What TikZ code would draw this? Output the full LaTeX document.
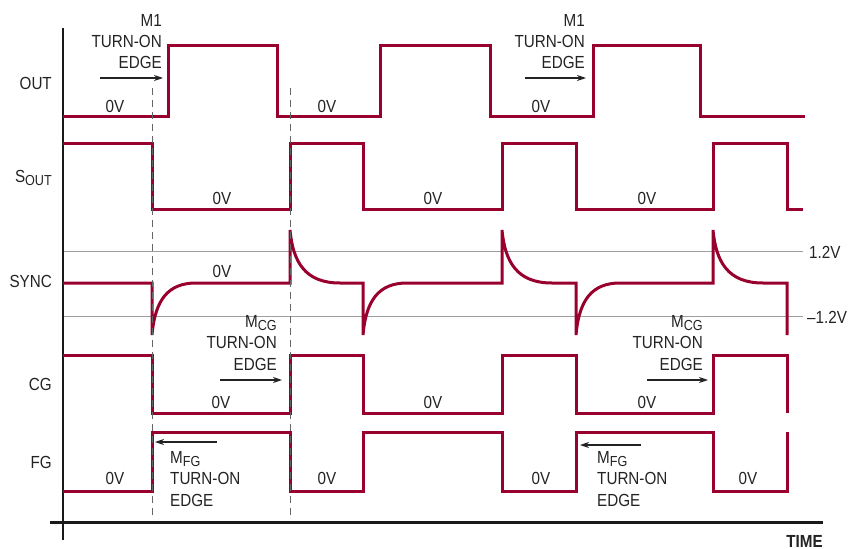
\documentclass[tikz,border=0pt]{standalone}
\usepackage{fontspec}
\setmainfont{Liberation Sans}[FakeStretch=0.87]
\usetikzlibrary{arrows.meta}
\definecolor{sig}{RGB}{152,0,46}
\definecolor{txt}{RGB}{35,35,35}
\newcommand\lowsub[1]{\raisebox{-3.5pt}{\fontsize{14.5}{16}\selectfont #1}}
\begin{document}
\begin{tikzpicture}[x=1pt,y=-1pt,
  sigline/.style={draw=sig,line width=3pt},
  refline/.style={draw=black!38,line width=1pt},
  dashline/.style={draw=black!60,line width=1pt,dash pattern=on 7pt off 5pt},
  axisline/.style={draw=black!90,line width=2.8pt},
  lbl/.style={inner sep=0pt,text=txt,font=\fontsize{17.5}{21}\selectfont},
  arr/.style={draw=txt,line width=1.1pt,-{Stealth[length=9pt,width=6pt]}}]
\useasboundingbox (0,0) rectangle (852,549);
% reference lines for SYNC
\draw[refline] (63,251) -- (803,251);
\draw[refline] (63,316) -- (803,316);
% axes
\draw[axisline] (63,28) -- (63,540);
\draw[axisline] (50,522.7) -- (823,522.7);
% OUT
\draw[sigline] (63,116) -- (168,116) -- (168,45) -- (277,45) -- (277,116) -- (380,116) -- (380,45) -- (490,45) -- (490,116) -- (593,116) -- (593,45) -- (700,45) -- (700,116) -- (805,116);
% SOUT
\draw[sigline] (63,143) -- (152,143) -- (152,209) -- (290,209) -- (290,143) -- (363,143) -- (363,209) -- (502,209) -- (502,143) -- (576,143) -- (576,209) -- (713,209) -- (713,143) -- (787,143) -- (787,209) -- (803,209);
% SYNC
\draw[sigline] (63,283) -- (152,283) -- (152,335) .. controls (155,300) and (168,283) .. (196,283) -- (290,283) -- (290,230) .. controls (293,262) and (305,283) .. (340,283) -- (363,283) -- (363,335) .. controls (366,300) and (379,283) .. (407,283) -- (502,283) -- (502,230) .. controls (505,262) and (517,283) .. (552,283) -- (576,283) -- (576,335) .. controls (579,300) and (592,283) .. (620,283) -- (713,283) -- (713,230) .. controls (716,262) and (728,283) .. (763,283) -- (787,283) -- (787,335);
% CG
\draw[sigline] (63,355) -- (152,355) -- (152,413) -- (290,413) -- (290,355) -- (363,355) -- (363,413) -- (502,413) -- (502,355) -- (576,355) -- (576,413) -- (713,413) -- (713,355) -- (787,355) -- (787,413);
% FG
\draw[sigline] (63,491) -- (152,491) -- (152,432) -- (290,432) -- (290,491) -- (363,491) -- (363,432) -- (502,432) -- (502,491) -- (576,491) -- (576,432) -- (713,432) -- (713,491) -- (787,491) -- (787,432);
% dashed markers
\draw[dashline] (152,88) -- (152,515);
\draw[dashline] (290,88) -- (290,515);
% left labels
\node[lbl,anchor=base east] (lout) at (52,89) {OUT};
\node[lbl,anchor=base east] (lsout) at (52,182) {S\lowsub{OUT}};
\node[lbl,anchor=base east] (lsync) at (52,287) {SYNC};
\node[lbl,anchor=base east] (lcg) at (52,390) {CG};
\node[lbl,anchor=base east] (lfg) at (52,468) {FG};
% 0V labels
\node[lbl,anchor=base] (o1) at (115,112) {0V};
\node[lbl,anchor=base] (o2) at (327,112) {0V};
\node[lbl,anchor=base] (o3) at (541,112) {0V};
\node[lbl,anchor=base] (s1) at (222,204) {0V};
\node[lbl,anchor=base] (s2) at (433,204) {0V};
\node[lbl,anchor=base] (s3) at (647,204) {0V};
\node[lbl,anchor=base] (y1) at (222,277) {0V};
\node[lbl,anchor=base] (c1) at (221,408) {0V};
\node[lbl,anchor=base] (c2) at (433,408) {0V};
\node[lbl,anchor=base] (c3) at (647,408) {0V};
\node[lbl,anchor=base] (f1) at (115,484) {0V};
\node[lbl,anchor=base] (f2) at (327,484) {0V};
\node[lbl,anchor=base] (f3) at (541,484) {0V};
\node[lbl,anchor=base] (f4) at (748,484) {0V};
% M1 turn-on edge (1)
\node[lbl,anchor=base east] (ma1) at (162,26) {M1};
\node[lbl,anchor=base east] (ma2) at (162,47) {TURN-ON};
\node[lbl,anchor=base east] (ma3) at (162,68) {EDGE};
\coordinate (ma4) at (100,78); \coordinate (ma5) at (163,78);
\draw[arr] (ma4) -- (ma5);
% M1 turn-on edge (2)
\node[lbl,anchor=base east] (mb1) at (585,26) {M1};
\node[lbl,anchor=base east] (mb2) at (585,47) {TURN-ON};
\node[lbl,anchor=base east] (mb3) at (585,68) {EDGE};
\coordinate (mb4) at (525,78); \coordinate (mb5) at (586,78);
\draw[arr] (mb4) -- (mb5);
% MCG (1)
\node[lbl,anchor=base east] (ca1) at (277,327) {M\lowsub{CG}};
\node[lbl,anchor=base east] (ca2) at (277,348) {TURN-ON};
\node[lbl,anchor=base east] (ca3) at (277,370) {EDGE};
\coordinate (ca4) at (220,380); \coordinate (ca5) at (282,380);
\draw[arr] (ca4) -- (ca5);
% MCG (2)
\node[lbl,anchor=base east] (cb1) at (703,327) {M\lowsub{CG}};
\node[lbl,anchor=base east] (cb2) at (703,348) {TURN-ON};
\node[lbl,anchor=base east] (cb3) at (703,370) {EDGE};
\coordinate (cb4) at (647,380); \coordinate (cb5) at (708,380);
\draw[arr] (cb4) -- (cb5);
% MFG (1)
\node[lbl,anchor=base west] (fa1) at (170,463) {M\lowsub{FG}};
\node[lbl,anchor=base west] (fa2) at (170,484) {TURN-ON};
\node[lbl,anchor=base west] (fa3) at (170,506) {EDGE};
\coordinate (fa4) at (217,442); \coordinate (fa5) at (155,442);
\draw[arr] (fa4) -- (fa5);
% MFG (2)
\node[lbl,anchor=base west] (fb1) at (597,463) {M\lowsub{FG}};
\node[lbl,anchor=base west] (fb2) at (597,484) {TURN-ON};
\node[lbl,anchor=base west] (fb3) at (597,506) {EDGE};
\coordinate (fb4) at (641,445); \coordinate (fb5) at (580,445);
\draw[arr] (fb4) -- (fb5);
% levels
\node[lbl,anchor=base west] (v1) at (809,258) {1.2V};
\node[lbl,anchor=base west] (v2) at (807,323) {–1.2V};
\node[lbl,anchor=base east,font=\fontsize{17.5}{21}\selectfont\bfseries] (time) at (823,547) {TIME};
\end{tikzpicture}
\end{document}
